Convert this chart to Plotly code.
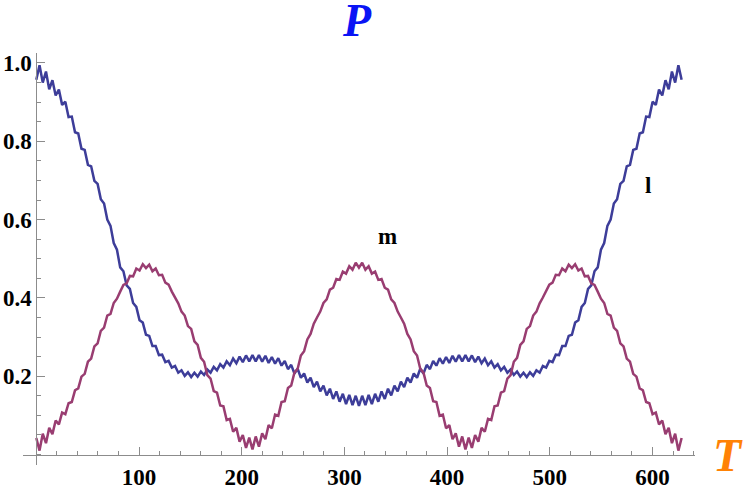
import math
import plotly.graph_objects as go

# ---- data (symmetric about T ~ 314) ----
# smooth (body) values sampled every 2*pi in T: k = 0..100
l_base = [0.957, 0.950, 0.933, 0.917, 0.893, 0.862, 0.823, 0.781, 0.740, 0.699,
          0.652, 0.600, 0.540, 0.478, 0.432, 0.387, 0.343, 0.306, 0.277, 0.254,
          0.236, 0.222, 0.209, 0.201, 0.198, 0.199, 0.203, 0.209, 0.215, 0.222,
          0.228, 0.233, 0.236, 0.238, 0.238, 0.237, 0.234, 0.232, 0.227, 0.218,
          0.207, 0.196, 0.184, 0.172, 0.161, 0.151, 0.142, 0.135, 0.129, 0.126,
          0.124,
          0.126, 0.129, 0.135, 0.142, 0.151, 0.161, 0.172, 0.184, 0.196, 0.207,
          0.218, 0.227, 0.232, 0.234, 0.237, 0.238, 0.238, 0.236, 0.233, 0.228,
          0.222, 0.215, 0.209, 0.203, 0.199, 0.198, 0.201, 0.209, 0.222, 0.236,
          0.254, 0.277, 0.306, 0.343, 0.387, 0.432, 0.478, 0.540, 0.600, 0.652,
          0.699, 0.740, 0.781, 0.823, 0.862, 0.893, 0.917, 0.933, 0.950, 0.957]
# spike tips of the fast oscillation, midway between body samples: k = 0..99
l_tip = [0.994, 0.978, 0.956, 0.932, 0.901, 0.863, 0.820, 0.778, 0.736, 0.691,
         0.641, 0.584, 0.523, 0.468, 0.423, 0.377, 0.337, 0.303, 0.277, 0.255,
         0.239, 0.226, 0.215, 0.210, 0.209, 0.212, 0.217, 0.224, 0.231, 0.238,
         0.245, 0.250, 0.253, 0.254, 0.254, 0.252, 0.249, 0.246, 0.239, 0.229,
         0.219, 0.207, 0.196, 0.186, 0.176, 0.168, 0.161, 0.155, 0.152, 0.150,
         0.150, 0.152, 0.155, 0.161, 0.168, 0.176, 0.186, 0.196, 0.207, 0.219,
         0.229, 0.239, 0.246, 0.249, 0.252, 0.254, 0.254, 0.253, 0.250, 0.245,
         0.238, 0.231, 0.224, 0.217, 0.212, 0.209, 0.210, 0.215, 0.226, 0.239,
         0.255, 0.277, 0.303, 0.337, 0.377, 0.423, 0.468, 0.523, 0.584, 0.641,
         0.691, 0.736, 0.778, 0.820, 0.863, 0.901, 0.932, 0.956, 0.978, 0.994]

m_base = [0.042, 0.053, 0.068, 0.087, 0.107, 0.131, 0.164, 0.199, 0.237, 0.276,
          0.316, 0.355, 0.387, 0.416, 0.437, 0.455, 0.470, 0.476, 0.468, 0.458,
          0.439, 0.416, 0.386, 0.355, 0.321, 0.280, 0.237, 0.194, 0.158, 0.123,
          0.091, 0.068, 0.050, 0.043, 0.046, 0.054, 0.075, 0.102, 0.134, 0.170,
          0.209, 0.253, 0.294, 0.334, 0.365, 0.396, 0.426, 0.446, 0.462, 0.472,
          0.477,
          0.472, 0.462, 0.446, 0.426, 0.396, 0.365, 0.334, 0.294, 0.253, 0.209,
          0.170, 0.134, 0.102, 0.075, 0.054, 0.046, 0.043, 0.050, 0.068, 0.091,
          0.123, 0.158, 0.194, 0.237, 0.280, 0.321, 0.355, 0.386, 0.416, 0.439,
          0.458, 0.468, 0.476, 0.470, 0.455, 0.437, 0.416, 0.387, 0.355, 0.316,
          0.276, 0.237, 0.199, 0.164, 0.131, 0.107, 0.087, 0.068, 0.053, 0.042]
m_tip = [0.010, 0.029, 0.052, 0.077, 0.103, 0.134, 0.169, 0.206, 0.245, 0.284,
         0.324, 0.359, 0.398, 0.433, 0.456, 0.475, 0.486, 0.485, 0.475, 0.459,
         0.434, 0.401, 0.365, 0.328, 0.289, 0.247, 0.203, 0.162, 0.125, 0.088,
         0.058, 0.033, 0.017, 0.013, 0.020, 0.039, 0.067, 0.099, 0.136, 0.176,
         0.219, 0.264, 0.308, 0.350, 0.387, 0.421, 0.448, 0.467, 0.481, 0.490,
         0.490, 0.481, 0.467, 0.448, 0.421, 0.387, 0.350, 0.308, 0.264, 0.219,
         0.176, 0.136, 0.099, 0.067, 0.039, 0.020, 0.013, 0.017, 0.033, 0.058,
         0.088, 0.125, 0.162, 0.203, 0.247, 0.289, 0.328, 0.365, 0.401, 0.434,
         0.459, 0.475, 0.485, 0.486, 0.475, 0.456, 0.433, 0.398, 0.359, 0.324,
         0.284, 0.245, 0.206, 0.169, 0.134, 0.103, 0.077, 0.052, 0.029, 0.010]

x_ticks = [100, 200, 300, 400, 500, 600]
y_ticks = [0.2, 0.4, 0.6, 0.8, 1.0]
y_tick_text = ["0.2", "0.4", "0.6", "0.8", "1.0"]

# sample positions in T
t_base = [2 * math.pi * k for k in range(len(l_base))]
t_tip = [(2 * k + 1) * math.pi for k in range(len(l_tip))]


def weave(base, tip):
    xs, ys = [], []
    for k in range(len(tip)):
        xs += [t_base[k], t_tip[k]]
        ys += [base[k], tip[k]]
    xs.append(t_base[len(tip)])
    ys.append(base[len(tip)])
    return xs, ys


lx, ly = weave(l_base, l_tip)
mx, my = weave(m_base, m_tip)

BLUE = "#3d3d99"
MAG = "#993d71"

fig = go.Figure()
fig.add_trace(go.Scatter(x=lx, y=ly, mode="lines", name="l",
                         line=dict(color=BLUE, width=2.5)))
fig.add_trace(go.Scatter(x=mx, y=my, mode="lines", name="m",
                         line=dict(color=MAG, width=2.5)))

XR = [-12.95, 641.35]
YR = [-0.0268, 1.0255]
tickfont = dict(family="Liberation Serif, Times New Roman, serif", size=23,
                color="black", weight="bold")
AX = "#8c8c8c"

fig.update_layout(
    width=747, height=490,
    margin=dict(l=23, r=52, t=53, b=25, autoexpand=False),
    paper_bgcolor="white", plot_bgcolor="white",
    showlegend=False,
    xaxis=dict(range=XR, showgrid=False, zeroline=False, automargin=False,
               showline=True, linecolor=AX, linewidth=1,
               anchor="free", position=(0 - YR[0]) / (YR[1] - YR[0]),
               tickmode="array", tickvals=x_ticks,
               ticks="inside", ticklen=8, tickcolor=AX, tickwidth=1,
               tickfont=tickfont, ticklabelstandoff=2,
               minor=dict(tickmode="linear", tick0=0, dtick=20,
                          ticks="inside", ticklen=4, tickcolor=AX,
                          showgrid=False)),
    yaxis=dict(range=YR, showgrid=False, zeroline=False, automargin=False,
               showline=True, linecolor=AX, linewidth=1,
               anchor="free", position=(0 - XR[0]) / (XR[1] - XR[0]),
               tickmode="array", tickvals=y_ticks, ticktext=y_tick_text,
               ticks="inside", ticklen=8, tickcolor=AX, tickwidth=1,
               tickfont=tickfont,
               minor=dict(tickmode="linear", tick0=0, dtick=0.05,
                          ticks="inside", ticklen=4, tickcolor=AX,
                          showgrid=False)),
    annotations=[
        dict(text="<b><i>P</i></b>", xref="paper", yref="paper",
             x=0.497, y=1.080, xanchor="center", yanchor="middle",
             showarrow=False,
             font=dict(family="Liberation Serif, serif", size=46, color="#0a14f5")),
        dict(text="<b><i>T</i></b>", xref="paper", yref="paper",
             x=1.049, y=0.024, xanchor="center", yanchor="middle",
             showarrow=False,
             font=dict(family="Liberation Serif, serif", size=46, color="#ff8205")),
        dict(text="<b>m</b>", xref="x", yref="y", x=342, y=0.556,
             showarrow=False,
             font=dict(family="Liberation Serif, serif", size=23, color="black")),
        dict(text="<b>l</b>", xref="x", yref="y", x=595.6, y=0.688,
             showarrow=False,
             font=dict(family="Liberation Serif, serif", size=23, color="black")),
    ],
)

fig.write_html("out.html",
               config={"displayModeBar": False},
               post_script="document.body.style.margin='0px';"
                           "document.body.style.overflow='hidden';")
